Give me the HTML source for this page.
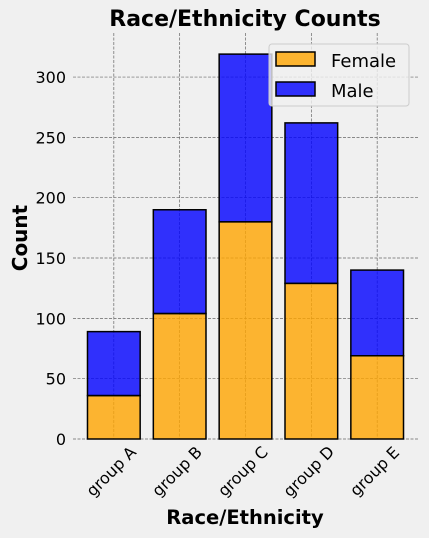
<!DOCTYPE html>
<html><head><meta charset="utf-8"><style>
body{margin:0;background:#f0f0f0;font-family:"DejaVu Sans","Liberation Sans",sans-serif;}
</style></head><body>
<svg id="chart" width="429" height="538" xmlns="http://www.w3.org/2000/svg" style="display:block;font-family:'DejaVu Sans','Liberation Sans',sans-serif">
<rect width="429" height="538" fill="#f0f0f0"/>
<g id="grid"></g><g id="bars"></g><g id="axes"></g>
<text x="245" y="26" text-anchor="middle" font-size="22" font-weight="bold">Race/Ethnicity Counts</text>
<text x="245" y="524" text-anchor="middle" font-size="19.5" font-weight="bold">Race/Ethnicity</text>
<text transform="translate(27,238) rotate(-90)" text-anchor="middle" font-size="20" font-weight="bold">Count</text>
<g>
<rect x="269" y="44" width="140" height="62" rx="3" fill="#f0f0f0" fill-opacity="0.8" stroke="#cccccc"/>
<rect x="276" y="52" width="39" height="14" fill="orange" fill-opacity="0.8" stroke="#000" stroke-width="1.5"/>
<text x="331" y="67" font-size="18">Female</text>
<rect x="276" y="82" width="39" height="14" fill="blue" fill-opacity="0.8" stroke="#000" stroke-width="1.5"/>
<text x="331" y="97" font-size="18">Male</text>
</g>
</svg>
<script>
const categories=["group A","group B","group C","group D","group E"];
const femaleValues=[36,104,180,129,69];
const maleValues=[53,86,139,133,71];
const yTicks=[0,50,100,150,200,250,300];
const NS="http://www.w3.org/2000/svg";
const L=73,R=418,T=33,B=439,yMax=336.5;
const step=(R-L)/5.24;
function xs(i){return L+(i+0.62)*step;}
function ys(v){return B-v*(B-T)/yMax;}
function mk(p,tag,a){const e=document.createElementNS(NS,tag);for(const k in a)e.setAttribute(k,a[k]);p.appendChild(e);return e;}
const grid=document.getElementById('grid'),bars=document.getElementById('bars'),axes=document.getElementById('axes');
yTicks.forEach(t=>{
 const l=mk(grid,'line',{x1:L,x2:R,y1:ys(t),y2:ys(t),stroke:'#666','stroke-width':0.7,'stroke-dasharray':'3,1.5'});
 
 
 const tx=mk(axes,'text',{x:L-7,y:ys(t)+6,'text-anchor':'end','font-size':16});
 tx.textContent=t;
 
 
});
categories.forEach((c,i)=>{
 const l=mk(grid,'line',{x1:xs(i),x2:xs(i),y1:T,y2:B,stroke:'#666','stroke-width':0.7,'stroke-dasharray':'3,1.5'});
 
 
 const w=step*0.8,x=xs(i)-w/2;
 const f=mk(bars,'rect',{x:x,y:ys(femaleValues[i]),width:w,height:B-ys(femaleValues[i]),fill:'orange','fill-opacity':0.8,stroke:'#000','stroke-width':1.5});
 
 
 const tot=femaleValues[i]+maleValues[i];
 const m=mk(bars,'rect',{x:x,y:ys(tot),width:w,height:ys(femaleValues[i])-ys(tot),fill:'blue','fill-opacity':0.8,stroke:'#000','stroke-width':1.5});
 
 
 const tx=mk(axes,'text',{transform:`translate(${xs(i)-3},${B+32}) rotate(-45)`,'text-anchor':'middle',y:6,'font-size':16});
 tx.textContent=c;
 
 
});
</script>
</body></html>
